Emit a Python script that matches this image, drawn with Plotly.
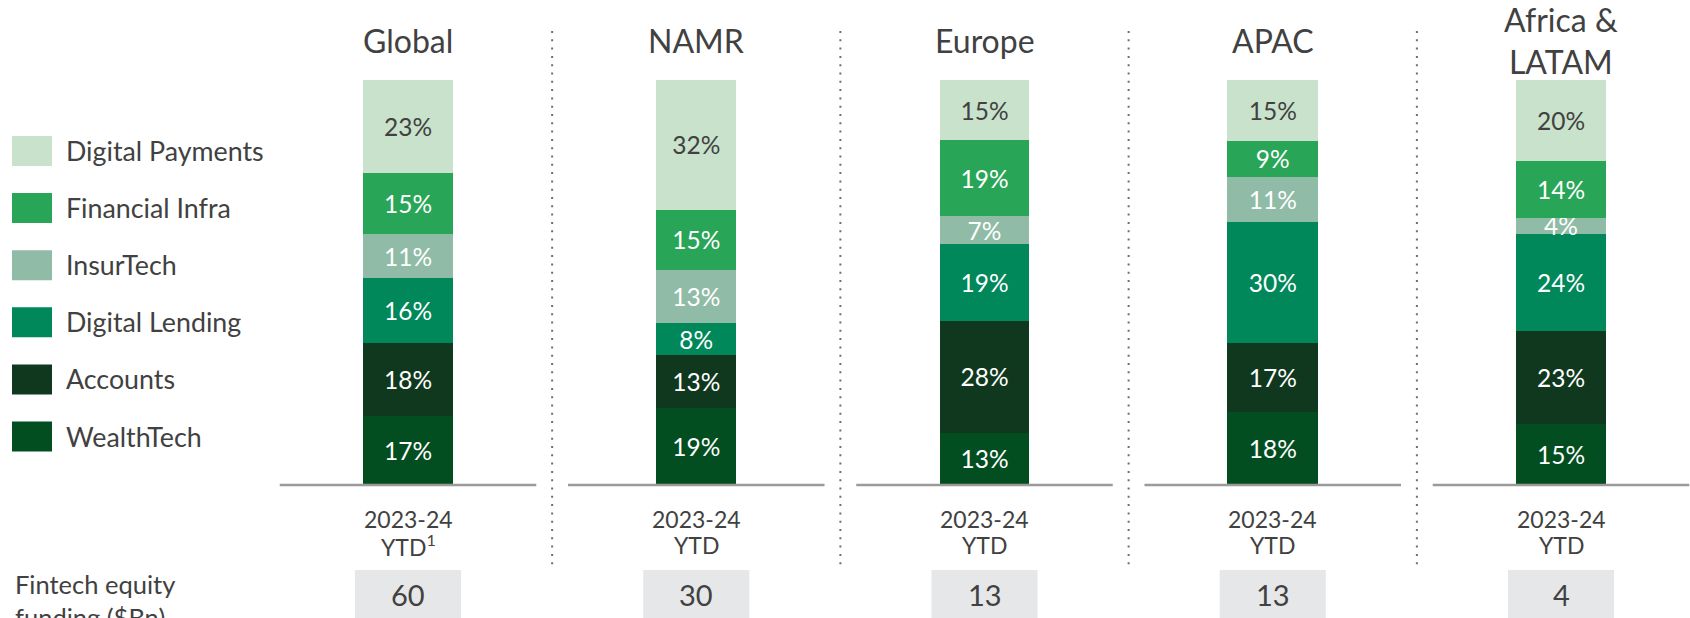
import plotly.graph_objects as go

# ---------------- data ----------------
regions = ["Global", "NAMR", "Europe", "APAC", "Africa &<br>LATAM"]
period_line1 = ["2023-24", "2023-24", "2023-24", "2023-24", "2023-24"]
period_line2 = ["YTD<sup>1</sup>", "YTD", "YTD", "YTD", "YTD"]
funding_bn = [60, 30, 13, 13, 4]

segments = ["Digital Payments", "Financial Infra", "InsurTech",
            "Digital Lending", "Accounts", "WealthTech"]
digital_payments = [23, 32, 15, 15, 20]
financial_infra = [15, 15, 19, 9, 14]
insurtech = [11, 13, 7, 11, 4]
digital_lending = [16, 8, 19, 30, 24]
accounts = [18, 13, 28, 17, 23]
wealthtech = [17, 19, 13, 18, 15]

# ---------------- style ----------------
FONT = "Lato"
TXT = "#414141"
colors = {
    "Digital Payments": "#C9E2CC",
    "Financial Infra": "#29A557",
    "InsurTech": "#90BBA6",
    "Digital Lending": "#00875A",
    "Accounts": "#10381E",
    "WealthTech": "#034E21",
}
label_colors = {
    "Digital Payments": TXT,
    "Financial Infra": "white",
    "InsurTech": "white",
    "Digital Lending": "white",
    "Accounts": "white",
    "WealthTech": "white",
}
bar_widths = [0.312, 0.278, 0.31, 0.315, 0.312]
LABEL_SIZE = 24.5

series = {
    "Digital Payments": digital_payments,
    "Financial Infra": financial_infra,
    "InsurTech": insurtech,
    "Digital Lending": digital_lending,
    "Accounts": accounts,
    "WealthTech": wealthtech,
}

W, H = 1690, 618
TOP, BOTTOM = 80, 485
PLOT_H = BOTTOM - TOP


def py(pix):
    """pixel y -> paper y"""
    return (BOTTOM - pix) / PLOT_H


xs = list(range(len(regions)))

fig = go.Figure()
# stack from bottom (WealthTech) to top (Digital Payments)
for name in reversed(segments):
    vals = series[name]
    fig.add_trace(go.Bar(
        x=xs, y=vals, name=name,
        width=bar_widths,
        marker=dict(color=colors[name], line=dict(width=0)),
        text=[f"{v}%" for v in vals],
        textposition="inside",
        insidetextanchor="middle",
        textangle=0,
        textfont=dict(family=FONT, size=LABEL_SIZE, color=label_colors[name]),
        showlegend=False,
        hoverinfo="skip",
    ))

shapes = []
annotations = []

for i, reg in enumerate(regions):
    # baseline segment
    shapes.append(dict(type="line", xref="x", yref="paper",
                       x0=i - 0.445, x1=i + 0.445, y0=0, y1=0,
                       line=dict(color="#9A9A9A", width=2.5), layer="above"))
    # region title
    annotations.append(dict(x=i, y=py(41), xref="x", yref="paper",
                            text=reg, showarrow=False, yanchor="middle",
                            font=dict(family=FONT, size=32, color=TXT)))
    # period labels
    annotations.append(dict(x=i, y=py(519), xref="x", yref="paper",
                            text=period_line1[i], showarrow=False, yanchor="middle",
                            font=dict(family=FONT, size=23, color=TXT)))
    annotations.append(dict(x=i, y=py(545), xref="x", yref="paper",
                            text=period_line2[i], showarrow=False, yanchor="middle",
                            font=dict(family=FONT, size=23, color=TXT)))
    # funding box
    shapes.append(dict(type="rect", xref="x", yref="paper",
                       x0=i - 0.184, x1=i + 0.184, y0=py(570), y1=py(625),
                       fillcolor="#E6E7E8", line=dict(width=0), layer="below"))
    annotations.append(dict(x=i, y=py(594), xref="x", yref="paper",
                            text=str(funding_bn[i]), showarrow=False, yanchor="middle",
                            font=dict(family=FONT, size=29, color=TXT)))
    # dotted separator
    if i < len(regions) - 1:
        shapes.append(dict(type="line", xref="x", yref="paper",
                           x0=i + 0.5, x1=i + 0.5, y0=py(31), y1=py(569),
                           line=dict(color="#6E6E6E", width=2, dash="2px,6.3px")))

# custom legend (top item = top of stack)
for k, name in enumerate(segments):
    cy = 151 + 57.1 * k
    shapes.append(dict(type="rect", xref="paper", yref="paper",
                       x0=12 / W, x1=52 / W, y0=py(cy - 15), y1=py(cy + 15),
                       fillcolor=colors[name], line=dict(width=0)))
    annotations.append(dict(x=64 / W, y=py(cy), xref="paper", yref="paper",
                            text=name, showarrow=False, xanchor="left", yanchor="middle",
                            font=dict(family=FONT, size=26.8, color=TXT)))

annotations.append(dict(x=13 / W, y=py(567), xref="paper", yref="paper",
                        text="Fintech equity<br>funding ($Bn)", showarrow=False,
                        xanchor="left", yanchor="top", align="left",
                        font=dict(family=FONT, size=25.5, color=TXT)))

scale = 288.25
x0 = -408 / scale
x1 = x0 + W / scale

fig.update_layout(
    width=W, height=H,
    margin=dict(l=0, r=0, t=TOP, b=H - BOTTOM, pad=0),
    barmode="stack",
    barnorm="percent",
    paper_bgcolor="white",
    plot_bgcolor="white",
    uniformtext=dict(minsize=LABEL_SIZE, mode="show"),
    xaxis=dict(range=[x0, x1], showticklabels=False, showgrid=False,
               zeroline=False, showline=False, ticks="", fixedrange=True),
    yaxis=dict(range=[0, 100], visible=False, showgrid=False, zeroline=False,
               fixedrange=True),
    shapes=shapes,
    annotations=annotations,
    font=dict(family=FONT, color=TXT),
)

fig.write_html(
    "out.html",
    config={"displayModeBar": False},
    post_script="document.body.style.margin='0';document.body.style.overflow='hidden';",
)
